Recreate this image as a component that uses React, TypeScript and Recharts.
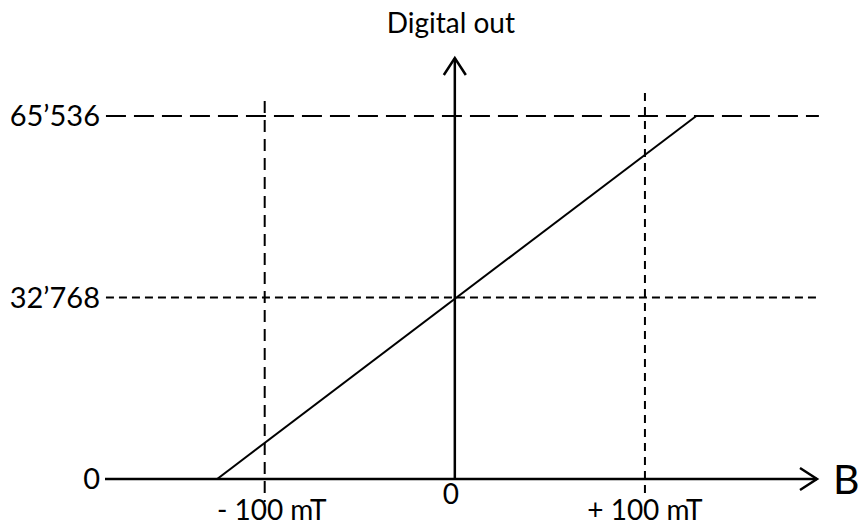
import React from 'react'
import { LineChart, Line, XAxis, YAxis, ReferenceLine } from 'recharts'

// values
const xTicks = [-100, 0, 100]
const xTickLabels = ['- 100 mT', '0', '+ 100 mT']
const yTicks = [0, 32768, 65536]
const yTickLabels = ['0', '32’768', '65’536']
const lineData = [
  { b: -125, out: 0 },
  { b: 127, out: 65536 },
]

// layout (data units)
const xDomain: [number, number] = [-184, 190.5]
const yDomain: [number, number] = [0, 76000]
const labelShift = [7, -4, 0]
const labelBaseline = [41, 25, 41]

const FONT = 'Lato, "Open Sans", sans-serif'

// axis line with an open arrow head at its far end
const arrowLine = (p: any) => {
  const { x1, y1, x2, y2 } = p
  const dx = x2 - x1
  const dy = y2 - y1
  const len = Math.sqrt(dx * dx + dy * dy) || 1
  const ux = dx / len
  const uy = dy / len
  const back = 17
  const half = 11
  const bx = x2 - ux * back
  const by = y2 - uy * back
  const d = `M${bx - uy * half},${by + ux * half} L${x2},${y2} L${bx + uy * half},${by - ux * half}`
  return (
    <g>
      <line x1={x1} y1={y1} x2={x2} y2={y2} stroke="#000" strokeWidth={2.5} />
      <path d={d} fill="none" stroke="#000" strokeWidth={2.5} />
    </g>
  )
}

const XTick = (props: any) => {
  const { x, payload } = props
  const i = xTicks.indexOf(payload.value)
  return (
    <text
      x={x + labelShift[i]}
      y={479 + labelBaseline[i]}
      textAnchor="middle"
      fill="#000"
      fontSize={28}
      fontFamily={FONT}
    >
      {xTickLabels[i]}
    </text>
  )
}

export default function App() {
  return (
    <div style={{ position: 'absolute', left: 0, top: 0, fontFamily: FONT, background: '#fff' }}>
      <LineChart
        width={863}
        height={532}
        data={lineData}
        margin={{ top: 58, right: 46, bottom: 0, left: 0 }}
      >
        <XAxis
          dataKey="b"
          type="number"
          domain={xDomain}
          allowDataOverflow
          ticks={xTicks}
          axisLine={false}
          tickLine={false}
          height={53}
          tick={<XTick />}
        />
        <YAxis
          type="number"
          domain={yDomain}
          allowDataOverflow
          ticks={yTicks}
          tickFormatter={(v: number) => yTickLabels[yTicks.indexOf(v)]}
          axisLine={false}
          tickLine={false}
          tickSize={3}
          tickMargin={2}
          width={105}
          tick={{ fill: '#000', fontSize: 29, fontFamily: FONT }}
        />

        {/* guide lines */}
        <ReferenceLine
          segment={[{ x: -183.5, y: 65536 }, { x: 191.5, y: 65536 }]}
          stroke="#000"
          strokeWidth={2}
          strokeDasharray="20 8"
          ifOverflow="visible"
        />
        <ReferenceLine
          segment={[{ x: -183.5, y: 32768 }, { x: 192.5, y: 32768 }]}
          stroke="#000"
          strokeWidth={2}
          strokeDasharray="8 5"
          ifOverflow="visible"
        />
        <ReferenceLine
          segment={[{ x: -100, y: 68250 }, { x: -100, y: -4150 }]}
          stroke="#000"
          strokeWidth={2}
          strokeDasharray="12 7"
          ifOverflow="visible"
        />
        <ReferenceLine
          segment={[{ x: 100, y: 69700 }, { x: 100, y: -2900 }]}
          stroke="#000"
          strokeWidth={2}
          strokeDasharray="8 6"
          ifOverflow="visible"
        />

        {/* axes with arrows */}
        <ReferenceLine
          segment={[{ x: xDomain[0], y: 0 }, { x: xDomain[1], y: 0 }]}
          shape={arrowLine}
          ifOverflow="visible"
          label={{ value: 'B', position: 'right', offset: 16, fill: '#000', fontSize: 41, fontFamily: FONT }}
        />
        <ReferenceLine
          segment={[{ x: 0, y: 0 }, { x: 0, y: yDomain[1] }]}
          shape={arrowLine}
          ifOverflow="visible"
          label={{ value: 'Digital out', position: 'top', offset: 25, dx: -4, fill: '#000', fontSize: 28, fontFamily: FONT }}
        />

        <Line
          dataKey="out"
          type="linear"
          stroke="#000"
          strokeWidth={2}
          dot={false}
          activeDot={false}
          isAnimationActive={false}
        />
      </LineChart>
    </div>
  )
}
